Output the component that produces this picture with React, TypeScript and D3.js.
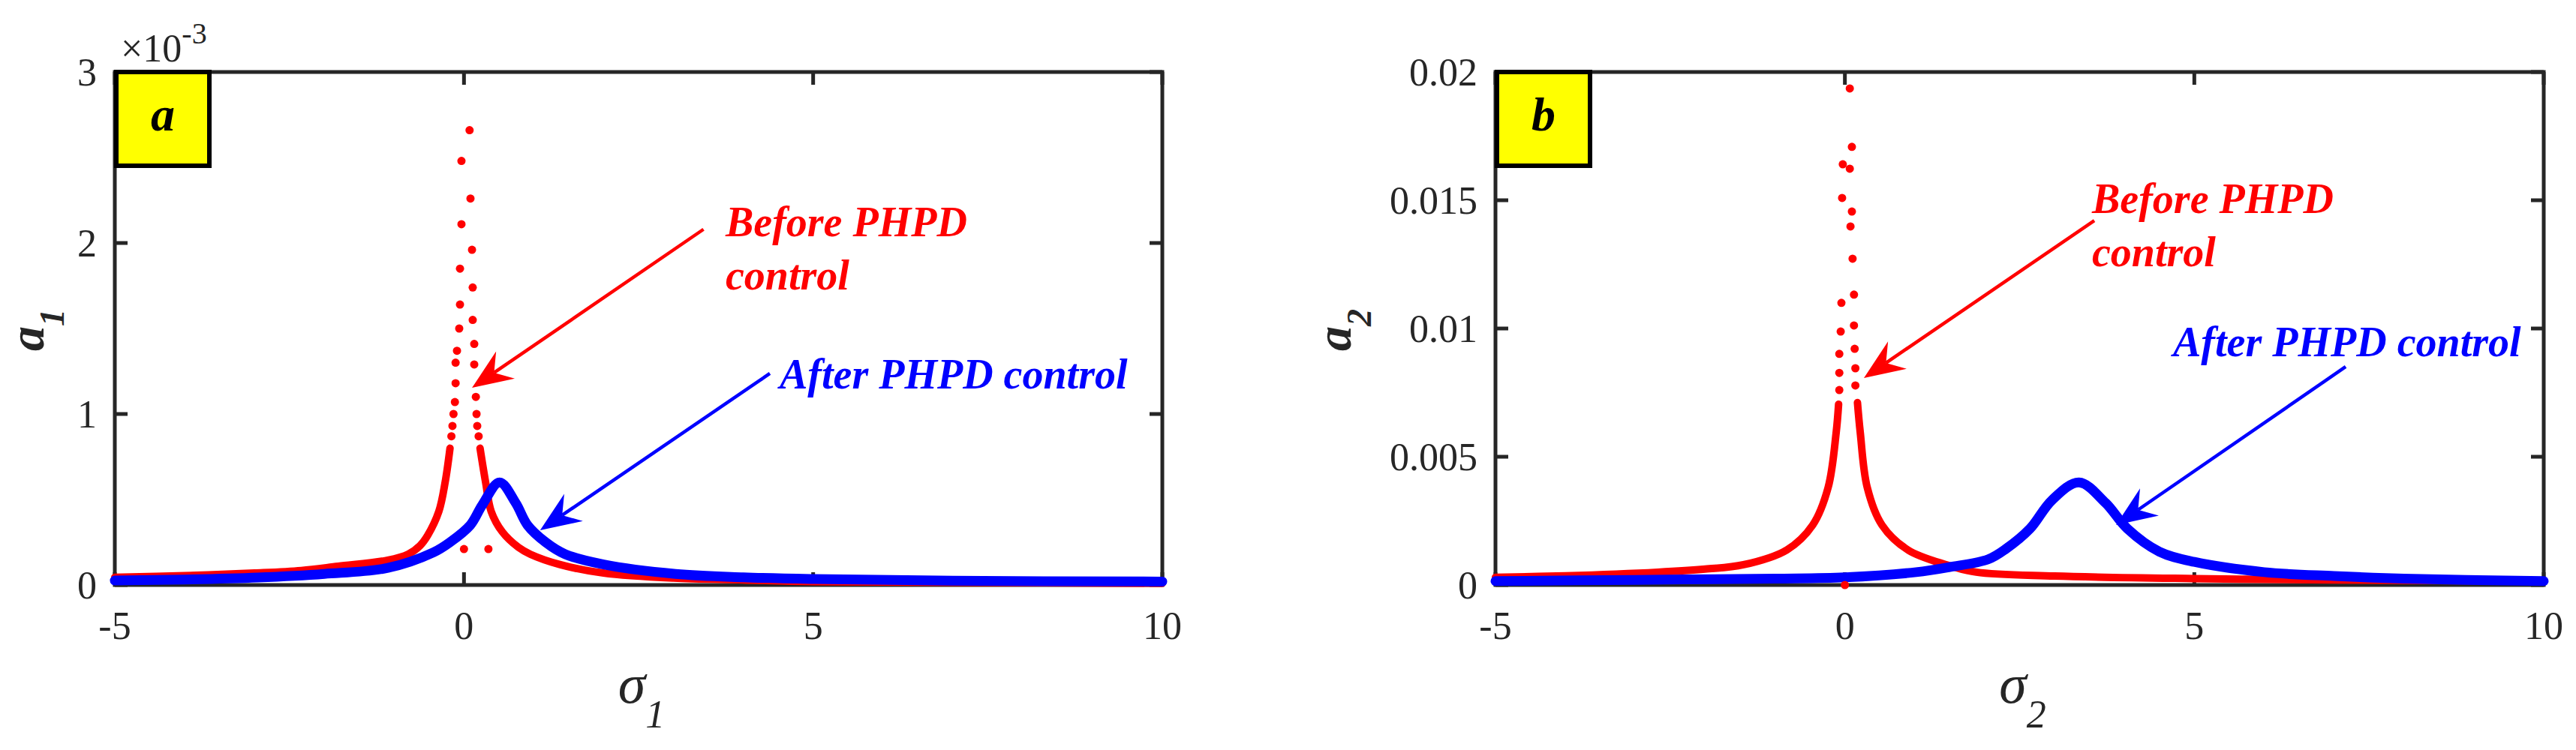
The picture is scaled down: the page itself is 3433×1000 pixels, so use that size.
import React from 'react';
import * as d3 from 'd3';

type P = [number, number];

// ---------- shared axis data ----------
const xTicks = [-5, 0, 5, 10];
const xTickLabels = ['-5', '0', '5', '10'];

// ---------- panel a (amplitude in units of 1e-3) ----------
const yTicksA = [0, 1, 2, 3];
const yTickLabelsA = ['0', '1', '2', '3'];

const redA_left: P[] = [
  [-5, 0.045], [-4, 0.055], [-3, 0.07], [-2.33, 0.085], [-1.8, 0.11], [-1.09, 0.145],
  [-0.8, 0.18], [-0.63, 0.23], [-0.52, 0.29], [-0.36, 0.43], [-0.27, 0.6], [-0.2, 0.8],
];
const redA_right: P[] = [
  [0.23, 0.8], [0.31, 0.6], [0.39, 0.43], [0.55, 0.31], [0.78, 0.22], [0.95, 0.18],
  [1.37, 0.12], [2.0, 0.07], [3.0, 0.04], [4.0, 0.03], [5.0, 0.02], [7.0, 0.015], [10, 0.01],
];
const redA_dots: P[] = [
  [0.08, 2.66], [0.093, 2.26], [0.115, 1.96], [0.125, 1.74], [0.125, 1.55], [0.147, 1.41],
  [0.147, 1.29], [0.17, 1.1], [0.18, 1.0], [0.19, 0.93], [0.21, 0.87],
  [-0.036, 2.48], [-0.036, 2.11], [-0.057, 1.85], [-0.057, 1.64], [-0.068, 1.5], [-0.1, 1.37],
  [-0.12, 1.3], [-0.12, 1.18], [-0.13, 1.07], [-0.15, 1.0], [-0.165, 0.93], [-0.18, 0.87],
  [0.0, 0.21], [0.35, 0.21],
];
const blueA: P[] = [
  [-5, 0.026], [-4, 0.032], [-2.95, 0.044], [-2, 0.065], [-1.09, 0.1], [-0.44, 0.19],
  [-0.2, 0.25], [0.09, 0.35], [0.265, 0.47], [0.51, 0.6], [0.74, 0.48], [0.91, 0.35],
  [1.17, 0.25], [1.45, 0.18], [2.0, 0.12], [3.03, 0.065], [4, 0.045], [5, 0.035], [7, 0.025], [10, 0.02],
];

// ---------- panel b ----------
const yTicksB = [0, 0.005, 0.01, 0.015, 0.02];
const yTickLabelsB = ['0', '0.005', '0.01', '0.015', '0.02'];

const redB_left: P[] = [
  [-5, 0.0003], [-4, 0.00036], [-2.68, 0.0005], [-2, 0.00062], [-1.45, 0.00079], [-0.83, 0.00137],
  [-0.46, 0.00234], [-0.24, 0.0038], [-0.125, 0.00594], [-0.09, 0.00705],
];
const redB_right: P[] = [
  [0.18, 0.00711], [0.22, 0.00594], [0.32, 0.0038], [0.53, 0.00234], [0.9, 0.00137], [1.45, 0.00079],
  [1.88, 0.0005], [3, 0.00035], [5, 0.00025], [7, 0.0002], [10, 0.00015],
];
const redB_dots: P[] = [
  [0.07, 0.01936], [0.1, 0.01708], [0.07, 0.01623], [0.1, 0.01456], [0.08, 0.01398], [0.11, 0.01272],
  [0.13, 0.01132], [0.13, 0.01012], [0.14, 0.00921], [0.15, 0.00845], [0.15, 0.00778],
  [-0.03, 0.0164], [-0.04, 0.01509], [-0.05, 0.011], [-0.06, 0.00988], [-0.08, 0.00901],
  [-0.08, 0.00827], [-0.08, 0.0076], [0.0, 0.0],
];
const blueB: P[] = [
  [-5, 0.00015], [-3, 0.0002], [-1, 0.00025], [0, 0.0003], [1.02, 0.0005], [1.5, 0.0007],
  [2.05, 0.001], [2.3, 0.0014], [2.65, 0.0022], [2.96, 0.0033], [3.35, 0.004], [3.73, 0.0032],
  [4.04, 0.0022], [4.5, 0.0013], [5, 0.0009], [6, 0.0005], [7, 0.00035], [8, 0.00025], [10, 0.00015],
];

// ---------- annotations (data coordinates) ----------
const annA = {
  redText: [3.746, 2.04] as P, redText2: [3.746, 1.73] as P,
  redArrow: [[3.43, 2.08], [0.115, 1.153]] as P[],
  blueText: [4.52, 1.149] as P,
  blueArrow: [[4.38, 1.237], [1.09, 0.32]] as P[],
};
const annB = {
  redText: [3.536, 0.0145] as P, redText2: [3.536, 0.01243] as P,
  redArrow: [[3.569, 0.01421], [0.272, 0.00807]] as P[],
  blueText: [4.696, 0.00892] as P,
  blueArrow: [[7.166, 0.00851], [3.88, 0.00234]] as P[],
};

const SERIF = "'Liberation Serif', 'Times New Roman', serif";
const AXIS = '#262626';
const RED = '#ff0000';
const BLUE = '#0000ff';

function Arrow({ x1, y1, x2, y2, color }: { x1: number; y1: number; x2: number; y2: number; color: string }) {
  const dx = x1 - x2, dy = y1 - y2;
  const len = Math.hypot(dx, dy);
  const ux = dx / len, uy = dy / len;
  const nx = -uy, ny = ux;
  const L = 54, W = 22, N = 0.66;
  const bx = x2 + ux * L, by = y2 + uy * L;
  const p1 = [bx + nx * W, by + ny * W];
  const p2 = [bx - nx * W, by - ny * W];
  const nt = [x2 + ux * L * N, y2 + uy * L * N];
  return (
    <g>
      <line x1={x1} y1={y1} x2={nt[0]} y2={nt[1]} stroke={color} strokeWidth={4.5} />
      <path d={`M${x2},${y2}L${p1[0]},${p1[1]}L${nt[0]},${nt[1]}L${p2[0]},${p2[1]}Z`} fill={color} />
    </g>
  );
}

function Panel(props: {
  left: number; right: number; top: number; bottom: number; yLabelX: number;
  yDomain: [number, number]; yTicks: number[]; yTickLabels: string[];
  redLeft: P[]; redRight: P[]; redDots: P[]; blue: P[];
  ann: typeof annA; letter: string; sub: string; exponent?: boolean;
}) {
  const { left, right, top, bottom } = props;
  const x = d3.scaleLinear().domain([-5, 10]).range([left, right]);
  const y = d3.scaleLinear().domain(props.yDomain).range([bottom, top]);
  const line = d3.line<P>().x(d => x(d[0])).y(d => y(d[1])).curve(d3.curveCatmullRom.alpha(0.5));
  const tl = 17;
  const a = props.ann;
  const cx = (left + right) / 2;
  const cy = (top + bottom) / 2;
  return (
    <g>
      {/* box */}
      <rect x={left} y={top} width={right - left} height={bottom - top} fill="none" stroke={AXIS} strokeWidth={5} />
      {/* ticks */}
      {xTicks.map((t, i) => (
        <g key={'xt' + i}>
          <line x1={x(t)} x2={x(t)} y1={bottom} y2={bottom - tl} stroke={AXIS} strokeWidth={5} />
          <line x1={x(t)} x2={x(t)} y1={top} y2={top + tl} stroke={AXIS} strokeWidth={5} />
          <text x={x(t)} y={852} textAnchor="middle" fontFamily={SERIF} fontSize={52} fill={AXIS}>{xTickLabels[i]}</text>
        </g>
      ))}
      {props.yTicks.map((t, i) => (
        <g key={'yt' + i}>
          <line x1={left} x2={left + tl} y1={y(t)} y2={y(t)} stroke={AXIS} strokeWidth={5} />
          <line x1={right} x2={right - tl} y1={y(t)} y2={y(t)} stroke={AXIS} strokeWidth={5} />
          <text x={left - 24} y={y(t)} dy="0.34em" textAnchor="end" fontFamily={SERIF} fontSize={52} fill={AXIS}>{props.yTickLabels[i]}</text>
        </g>
      ))}
      {props.exponent && (
        <text x={left + 8} y={82} fontFamily={SERIF} fontSize={52} fill={AXIS}>
          ×10<tspan fontSize={40} dy={-24}>-3</tspan>
        </text>
      )}
      {/* curves */}
      <path d={line(props.redLeft) || ''} fill="none" stroke={RED} strokeWidth={10} strokeLinecap="round" strokeLinejoin="round" />
      <path d={line(props.redRight) || ''} fill="none" stroke={RED} strokeWidth={10} strokeLinecap="round" strokeLinejoin="round" />
      <path d={line(props.blue) || ''} fill="none" stroke={BLUE} strokeWidth={13} strokeLinecap="round" strokeLinejoin="round" />
      {props.redDots.map((d, i) => (
        <circle key={'rd' + i} cx={x(d[0])} cy={y(d[1])} r={5.5} fill={RED} />
      ))}
      {/* annotations */}
      <text x={x(a.redText[0])} y={y(a.redText[1])} fontFamily={SERIF} fontSize={56} fontWeight="bold" fontStyle="italic" fill={RED}>Before PHPD</text>
      <text x={x(a.redText2[0])} y={y(a.redText2[1])} fontFamily={SERIF} fontSize={56} fontWeight="bold" fontStyle="italic" fill={RED}>control</text>
      <Arrow x1={x(a.redArrow[0][0])} y1={y(a.redArrow[0][1])} x2={x(a.redArrow[1][0])} y2={y(a.redArrow[1][1])} color={RED} />
      <text x={x(a.blueText[0])} y={y(a.blueText[1])} fontFamily={SERIF} fontSize={56} fontWeight="bold" fontStyle="italic" fill={BLUE}>After PHPD control</text>
      <Arrow x1={x(a.blueArrow[0][0])} y1={y(a.blueArrow[0][1])} x2={x(a.blueArrow[1][0])} y2={y(a.blueArrow[1][1])} color={BLUE} />
      {/* panel letter */}
      <rect x={left + 2} y={top} width={124} height={125} fill="#ffff00" stroke="#000" strokeWidth={6} />
      <text x={left + 64} y={top + 78} textAnchor="middle" fontFamily={SERIF} fontSize={64} fontWeight="bold" fontStyle="italic" fill="#000">{props.letter}</text>
      {/* axis labels */}
      <text transform={`translate(${props.yLabelX},${cy + 2}) rotate(-90)`} textAnchor="middle" fontFamily={SERIF} fontWeight="bold" fontStyle="italic" fill={AXIS}>
        <tspan fontSize={66}>a</tspan><tspan fontSize={46} dy={27}>{props.sub}</tspan>
      </text>
      <text x={cx + 4} y={937} textAnchor="middle" fontFamily={SERIF} fontStyle="italic" fill={AXIS}>
        <tspan fontSize={74}>σ</tspan><tspan fontSize={52} dy={33}>{props.sub}</tspan>
      </text>
    </g>
  );
}

export default function App() {
  return (
    <svg width={3433} height={1000} viewBox="0 0 3433 1000" style={{ position: 'absolute', left: 0, top: 0, background: '#fff' }}>
      <rect x={0} y={0} width={3433} height={1000} fill="#fff" />
      <Panel left={153} right={1549} top={96} bottom={780} yLabelX={58} yDomain={[0, 3]} yTicks={yTicksA} yTickLabels={yTickLabelsA}
        redLeft={redA_left} redRight={redA_right} redDots={redA_dots} blue={blueA} ann={annA} letter="a" sub="1" exponent />
      <Panel left={1993} right={3390} top={96} bottom={780} yLabelX={1800} yDomain={[0, 0.02]} yTicks={yTicksB} yTickLabels={yTickLabelsB}
        redLeft={redB_left} redRight={redB_right} redDots={redB_dots} blue={blueB} ann={annB} letter="b" sub="2" />
    </svg>
  );
}
